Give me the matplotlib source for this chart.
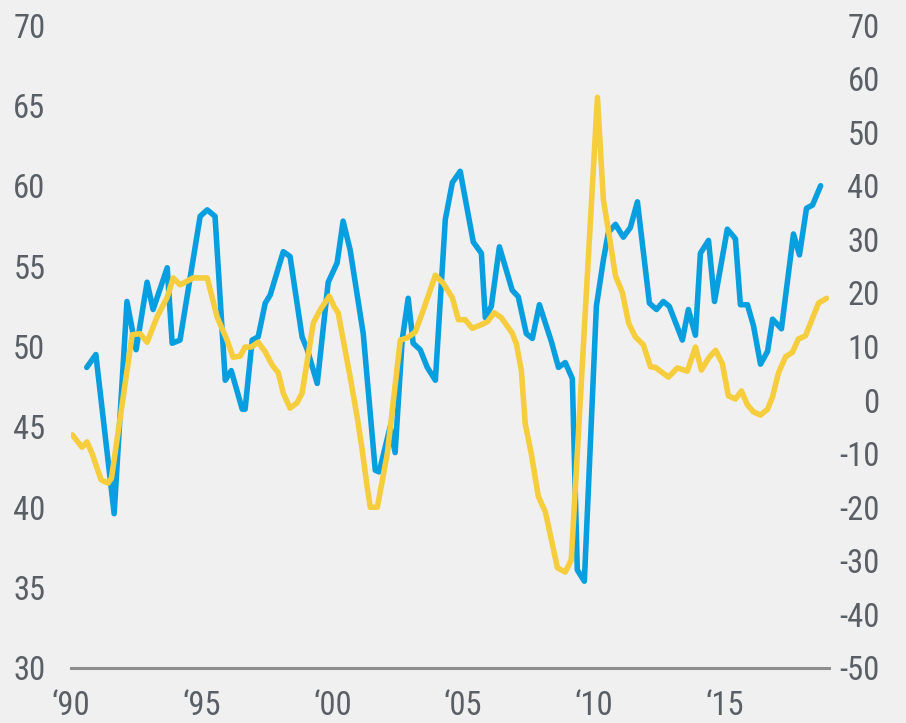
import matplotlib
matplotlib.use("Agg")
import matplotlib.pyplot as plt
from matplotlib import font_manager as fm

# ---- data ----
blue_years = [1990.60, 1990.95, 1991.65, 1992.14, 1992.49, 1992.91, 1993.14, 1993.68, 1993.87, 1994.17,
              1994.94, 1995.21, 1995.51, 1995.90, 1996.13, 1996.55, 1996.66, 1996.93, 1997.16, 1997.43,
              1997.62, 1998.12, 1998.38, 1998.84, 1999.04, 1999.42, 1999.84, 2000.18, 2000.41, 2000.68,
              2001.18, 2001.64, 2001.79, 2002.21, 2002.40, 2002.67, 2002.90, 2003.09, 2003.36, 2003.63,
              2003.94, 2004.32, 2004.59, 2004.89, 2005.39, 2005.70, 2005.85, 2006.08, 2006.39, 2006.88,
              2007.11, 2007.42, 2007.65, 2007.92, 2008.38, 2008.65, 2008.91, 2009.18, 2009.37, 2009.64,
              2010.10, 2010.37, 2010.56, 2010.83, 2011.13, 2011.40, 2011.67, 2012.13, 2012.40, 2012.66,
              2012.89, 2013.39, 2013.62, 2013.89, 2014.08, 2014.39, 2014.62, 2015.11, 2015.42, 2015.61,
              2015.88, 2016.11, 2016.38, 2016.65, 2016.84, 2017.18, 2017.64, 2017.87, 2018.14, 2018.37,
              2018.68]
blue_values = [48.7, 49.5, 39.6, 52.8, 49.8, 54.0, 52.3, 54.9, 50.2, 50.4,
               58.1, 58.5, 58.1, 47.9, 48.5, 46.1, 46.1, 50.4, 50.6, 52.7,
               53.2, 55.9, 55.6, 50.6, 49.8, 47.7, 54.0, 55.2, 57.8, 56.0,
               50.8, 42.3, 42.2, 45.0, 43.4, 50.4, 53.0, 50.2, 49.8, 48.7,
               47.9, 57.9, 60.2, 60.9, 56.5, 55.8, 51.8, 52.5, 56.2, 53.5,
               53.1, 50.8, 50.5, 52.6, 50.3, 48.7, 49.0, 48.0, 36.1, 35.4,
               52.5, 55.4, 57.1, 57.6, 56.8, 57.4, 59.0, 52.7, 52.3, 52.8,
               52.5, 50.4, 52.3, 50.7, 55.8, 56.6, 52.8, 57.3, 56.7, 52.6,
               52.6, 51.3, 48.9, 49.7, 51.7, 51.1, 57.0, 55.7, 58.6, 58.8,
               60.0]

yellow_years = [1990.05, 1990.42, 1990.61, 1990.80, 1991.15, 1991.42, 1991.55, 1992.34, 1992.64, 1992.91,
                1993.29, 1993.68, 1993.91, 1994.17, 1994.67, 1995.21, 1995.59, 1995.97, 1996.20, 1996.47,
                1996.66, 1996.89, 1997.16, 1997.43, 1997.70, 1997.93, 1998.12, 1998.38, 1998.65, 1998.84,
                1999.27, 1999.53, 1999.88, 2000.07, 2000.22, 2000.68, 2000.95, 2001.14, 2001.33, 2001.45,
                2001.72, 2002.10, 2002.60, 2002.86, 2003.17, 2003.48, 2003.94, 2004.24, 2004.59, 2004.82,
                2005.08, 2005.35, 2005.66, 2005.93, 2006.19, 2006.46, 2006.88, 2007.04, 2007.23, 2007.38,
                2007.61, 2007.88, 2008.15, 2008.61, 2008.91, 2009.14, 2010.14, 2010.37, 2010.56, 2010.83,
                2011.10, 2011.33, 2011.59, 2011.90, 2012.17, 2012.36, 2012.63, 2012.86, 2013.20, 2013.58,
                2013.89, 2014.12, 2014.39, 2014.66, 2014.92, 2015.15, 2015.42, 2015.65, 2015.88, 2016.11,
                2016.38, 2016.65, 2016.84, 2017.07, 2017.34, 2017.60, 2017.83, 2018.10, 2018.60, 2018.91]
yellow_values = [-6.5, -8.8, -7.8, -9.9, -14.9, -15.5, -14.5, 12.2, 12.4, 10.8,
                 15.5, 19.2, 22.8, 21.5, 22.8, 22.8, 15.5, 11.2, 8.0, 8.2,
                 9.9, 9.9, 10.8, 9.0, 6.5, 5.1, 1.3, -1.5, -0.5, 1.3,
                 14.4, 16.8, 19.4, 17.4, 16.3, 4.3, -3.2, -9.3, -16.2, -20.0,
                 -20.0, -10.0, 11.2, 11.6, 12.7, 16.8, 23.3, 21.8, 19.1, 15.0,
                 15.0, 13.4, 14.0, 14.6, 16.3, 15.4, 12.5, 10.5, 5.5, -4.5,
                 -10.0, -18.0, -20.9, -31.3, -32.1, -29.8, 56.5, 37.3, 31.7, 23.2,
                 20.0, 14.4, 11.8, 10.3, 6.2, 6.1, 5.1, 4.3, 6.0, 5.4,
                 9.9, 5.6, 7.8, 9.3, 6.8, 0.8, 0.2, 1.7, -0.9, -2.2,
                 -2.8, -1.7, 0.6, 5.1, 8.1, 8.9, 11.4, 12.0, 18.1, 19.0]

x_ticks = [1990, 1995, 2000, 2005, 2010, 2015]
x_tick_labels = ["\u201890", "\u201895", "\u201800", "\u201805", "\u201810", "\u201815"]
left_ticks = [30, 35, 40, 45, 50, 55, 60, 65, 70]
right_ticks = [-50, -40, -30, -20, -10, 0, 10, 20, 30, 40, 50, 60, 70]

# ---- pick a condensed sans face if one is installed ----
def pick_font():
    entries = fm.fontManager.ttflist
    names = {f.name for f in entries}
    preferred = ["Liberation Sans Narrow", "Roboto Condensed", "DejaVu Sans Condensed",
                 "Noto Sans Condensed", "Open Sans Condensed", "Arial Narrow"]
    for p in preferred:
        if p in names:
            return {"family": [p, "DejaVu Sans"], "stretch": "normal"}
    for f in entries:
        n = f.name
        if ("Condensed" in n or "Narrow" in n) and "Mono" not in n and "Serif" not in n \
                and "CJK" not in n:
            return {"family": [n, "DejaVu Sans"], "stretch": "normal"}
    for f in entries:
        st = f.stretch
        if (st in ("condensed", "semi-condensed", "extra-condensed")
                or (isinstance(st, int) and st < 500)) and "Mono" not in f.name \
                and "Serif" not in f.name and "CJK" not in f.name:
            return {"family": [f.name, "DejaVu Sans"], "stretch": st}
    return None

choice = pick_font()

# ---- style ----
BG = "#f0f0f0"
BLUE = "#079fe0"
YELLOW = "#f6cd3c"
TXT = "#5a5f66"
if choice is not None:
    plt.rcParams["font.family"] = choice["family"]
    plt.rcParams["font.stretch"] = choice["stretch"]
    FS = 23.5
else:
    plt.rcParams["font.family"] = ["DejaVu Sans"]
    FS = 20

fig = plt.figure(figsize=(9.06, 7.23), dpi=100, facecolor=BG)
ax = fig.add_axes([0.0784, 0.0761, 0.8366, 0.8893])
ax.set_facecolor(BG)
ax2 = ax.twinx()          # drawn above ax, so yellow lies over blue at crossings
ax2.patch.set_visible(False)

ax.plot(blue_years, blue_values, color=BLUE, lw=4.0, solid_joinstyle="round",
        solid_capstyle="round")
ax2.plot(yellow_years, yellow_values, color=YELLOW, lw=4.0, solid_joinstyle="round",
         solid_capstyle="round")

ax.set_xlim(1990, 2019)
ax.set_ylim(30, 70)
ax2.set_ylim(-50, 70)

ax.set_xticks(x_ticks)
ax.set_xticklabels(x_tick_labels)
ax.set_yticks(left_ticks)
ax.set_yticklabels([str(v) for v in left_ticks])
ax2.set_yticks(right_ticks)
ax2.set_yticklabels([str(v) for v in right_ticks])

for a in (ax, ax2):
    for s in a.spines.values():
        s.set_visible(False)

ax2.spines["bottom"].set_visible(True)
ax2.spines["bottom"].set_color("#8e8e8e")
ax2.spines["bottom"].set_linewidth(2.2)

ax.tick_params(axis="x", length=0, pad=15.5, labelsize=FS, labelcolor=TXT)
ax.tick_params(axis="y", length=0, pad=18.5, labelsize=FS, labelcolor=TXT)
ax2.tick_params(axis="y", length=0, pad=36.5, labelsize=FS, labelcolor=TXT)
for lab in ax2.get_yticklabels():
    lab.set_horizontalalignment("right")

fig.savefig("out.png", dpi=100, facecolor=BG)
